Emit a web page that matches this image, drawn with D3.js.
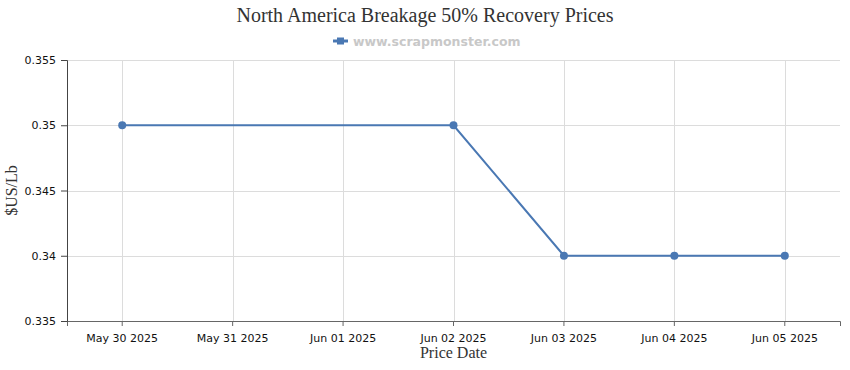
<!DOCTYPE html>
<html>
<head>
<meta charset="utf-8">
<script src="https://cdn.jsdelivr.net/npm/d3@7"></script>
<style>
  body { margin: 0; background: #fff; }
  svg { display: block; }
</style>
</head>
<body>
<div id="viz"></div>
<script>
const margin = { top: 60, right: 10, bottom: 49, left: 67 };
const width = 850;
const height = 370;
const lineColor = '#4a78b3';

// data
const dates = ['May 30 2025', 'May 31 2025', 'Jun 01 2025', 'Jun 02 2025', 'Jun 03 2025', 'Jun 04 2025', 'Jun 05 2025'];
const priceDates = ['May 30 2025', 'Jun 02 2025', 'Jun 03 2025', 'Jun 04 2025', 'Jun 05 2025'];
const prices = [0.35, 0.35, 0.34, 0.34, 0.34];
const yTicks = [0.335, 0.34, 0.345, 0.35, 0.355];

const points = priceDates.map((d, i) => ({ date: d, price: prices[i] }));

const svg = d3.select('#viz')
  .append('svg')
    .attr('width', width)
    .attr('height', height);

const xScale = d3.scaleBand()
  .domain(dates)
  .range([margin.left, width - margin.right]);

const yScale = d3.scaleLinear()
  .domain([0.335, 0.355])
  .range([height - margin.bottom, margin.top]);

const xPos = d => xScale(d) + xScale.bandwidth() / 2;

// grid
svg.append('g')
  .selectAll('line')
  .data(yTicks)
  .join('line')
    .attr('x1', margin.left)
    .attr('x2', width - margin.right)
    .attr('y1', d => Math.round(yScale(d)) + 0.5)
    .attr('y2', d => Math.round(yScale(d)) + 0.5)
    .attr('stroke', '#dcdcdc');

svg.append('g')
  .selectAll('line')
  .data(dates)
  .join('line')
    .attr('x1', d => Math.round(xPos(d)) + 0.5)
    .attr('x2', d => Math.round(xPos(d)) + 0.5)
    .attr('y1', margin.top)
    .attr('y2', height - margin.bottom)
    .attr('stroke', '#dcdcdc');

// axes
const xAxis = svg.append('g')
  .attr('transform', `translate(0, ${height - margin.bottom})`)
  .call(d3.axisBottom(xScale).tickSizeOuter(0).tickSize(5));
xAxis.select('.domain').attr('stroke', '#666');
xAxis.selectAll('.tick line').attr('stroke', '#666');
xAxis.selectAll('.tick text')
  .attr('font-family', 'DejaVu Sans, sans-serif')
  .attr('font-size', 11)
  .attr('fill', '#111')
  .attr('dy', '1.2em');

const yAxis = svg.append('g')
  .attr('transform', `translate(${margin.left}, 0)`)
  .call(d3.axisLeft(yScale).tickValues(yTicks).tickFormat(d3.format('')).tickSizeOuter(0).tickSize(6));
yAxis.select('.domain').attr('stroke', '#444');
yAxis.selectAll('.tick line').attr('stroke', '#444');
yAxis.selectAll('.tick text')
  .attr('font-family', 'DejaVu Sans, sans-serif')
  .attr('font-size', 11)
  .attr('fill', '#111')
  .attr('x', -11);

// line
svg.append('path')
  .datum(points)
  .attr('fill', 'none')
  .attr('stroke', lineColor)
  .attr('stroke-width', 2)
  .attr('d', d3.line().x(d => xPos(d.date)).y(d => yScale(d.price)));

svg.append('g')
  .selectAll('circle')
  .data(points)
  .join('circle')
    .attr('cx', d => xPos(d.date))
    .attr('cy', d => yScale(d.price))
    .attr('r', 4)
    .attr('fill', lineColor);

// title
svg.append('text')
  .attr('x', width / 2)
  .attr('y', 22)
  .attr('text-anchor', 'middle')
  .attr('font-family', 'Liberation Serif, serif')
  .attr('font-size', 20)
  .attr('fill', '#333')
  .text('North America Breakage 50% Recovery Prices');

// legend
const legend = svg.append('g').attr('transform', 'translate(333, 41)');
legend.append('line')
  .attr('x1', 0).attr('x2', 15)
  .attr('stroke', lineColor).attr('stroke-width', 3);
legend.append('rect')
  .attr('x', 4).attr('y', -3.5).attr('width', 7).attr('height', 7)
  .attr('fill', lineColor);
legend.append('text')
  .attr('x', 20)
  .attr('y', 4.5)
  .attr('font-family', 'DejaVu Sans, sans-serif')
  .attr('font-weight', 'bold')
  .attr('font-size', 12.5)
  .attr('fill', '#c8c8c8')
  .text('www.scrapmonster.com');

// axis titles
svg.append('text')
  .attr('x', (margin.left + width - margin.right) / 2)
  .attr('y', 358)
  .attr('text-anchor', 'middle')
  .attr('font-family', 'Liberation Serif, serif')
  .attr('font-size', 16)
  .attr('fill', '#333')
  .text('Price Date');

svg.append('text')
  .attr('transform', `translate(17, ${(margin.top + height - margin.bottom) / 2}) rotate(-90)`)
  .attr('text-anchor', 'middle')
  .attr('font-family', 'Liberation Serif, serif')
  .attr('font-size', 16)
  .attr('fill', '#333')
  .text('$US/Lb');
</script>
</body>
</html>
